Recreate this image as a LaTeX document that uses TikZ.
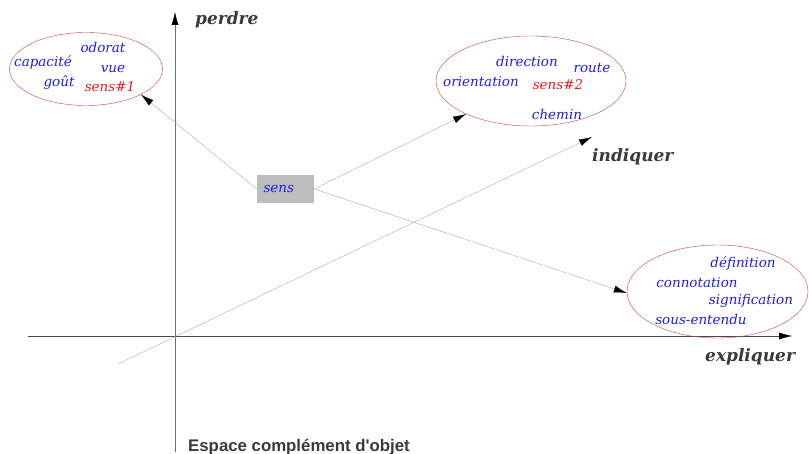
\documentclass[tikz,border=0pt]{standalone}
\usepackage{fontspec}
\setmainfont{DejaVu Serif}
\setsansfont{Liberation Sans}
\usetikzlibrary{arrows.meta,shapes.geometric}
\definecolor{wordblue}{HTML}{1E1EE8}
\definecolor{wordred}{HTML}{E81E1E}
\definecolor{ringred}{HTML}{D04040}
\definecolor{axisgray}{HTML}{4A4A4A}
\definecolor{linkgray}{HTML}{ABABAB}
\definecolor{boxbg}{HTML}{BDBDBD}
\definecolor{labelgray}{HTML}{3A3A3A}
\begin{document}
\begin{tikzpicture}[x=1pt,y=-1pt,>={Latex[length=13pt,width=7pt,color=black]},
   wd/.style={font=\fontsize{13.5}{14}\selectfont\itshape,text=wordblue,inner sep=0pt},
   rd/.style={wd,text=wordred},
   ax/.style={font=\fontsize{17}{18}\selectfont\bfseries\itshape,text=labelgray,inner sep=0pt},
   oval/.style={draw=ringred,ellipse,inner sep=0pt},
   sensbox/.style={fill=boxbg,text width=44pt,align=left,inner xsep=6.5pt,minimum height=28pt,
      font=\fontsize{13.5}{14}\selectfont\itshape,text=wordblue},
   lk/.style={draw=linkgray,thin}]
  \useasboundingbox (0,0) rectangle (809,454);
  % axes
  \coordinate (ytop) at (175,12);
  \coordinate (ybot) at (175,452);
  \coordinate (xleft) at (28,336);
  \coordinate (xright) at (792,336);
  \coordinate (zleft) at (118,364);
  \coordinate (zright) at (592,137);
  \draw[->,draw=axisgray!80] (ybot) -- (ytop);
  \draw[->,draw=axisgray] (xleft) -- (xright);
  \draw[->,lk] (zleft) -- (zright);
  \node[ax,anchor=west] (perdre) at (195,20) {perdre};
  \node[ax,anchor=west] (indiquer) at (592,157) {indiquer};
  \node[ax,anchor=west] (expliquer) at (705,357) {expliquer};
  \node[anchor=base west,inner sep=0pt,text=labelgray,
     font=\sffamily\bfseries\fontsize{16.8}{17}\selectfont] (espace) at (188,451) {Espace complément d\textquotesingle objet};
  % groups
  \node[oval,minimum width=153pt,minimum height=73pt] (e1) at (86,69) {};
  \node[oval,minimum width=190pt,minimum height=90pt] (e2) at (531,81) {};
  \node[oval,minimum width=181pt,minimum height=93pt] (e3) at (717.5,291.5) {};
  \node[wd] (capacite) at (43,63) {capacité};
  \node[wd] (odorat) at (103,47) {odorat};
  \node[wd] (vue) at (113,69) {vue};
  \node[wd] (gout) at (59,83) {goût};
  \node[rd] (sens1) at (110,87) {sens\#1};
  \node[wd] (direction) at (527,61) {direction};
  \node[wd] (route) at (592,68) {route};
  \node[wd] (orientation) at (481,82) {orientation};
  \node[rd] (sens2) at (558,85) {sens\#2};
  \node[wd] (chemin) at (557,114) {chemin};
  \node[wd] (definition) at (743,264) {définition};
  \node[wd] (connotation) at (697,283) {connotation};
  \node[wd] (signification) at (751,301) {signification};
  \node[wd] (sousentendu) at (701,319) {sous-entendu};
  % word
  \node[sensbox] (sens) at (285.5,189) {sens};
  \draw[->,lk] (sens.west) -- (e1.-25);
  \draw[->,lk] (sens.east) -- (e2.207);
  \draw[->,lk] (sens.east) -- (e3.181);
\end{tikzpicture}
\end{document}
